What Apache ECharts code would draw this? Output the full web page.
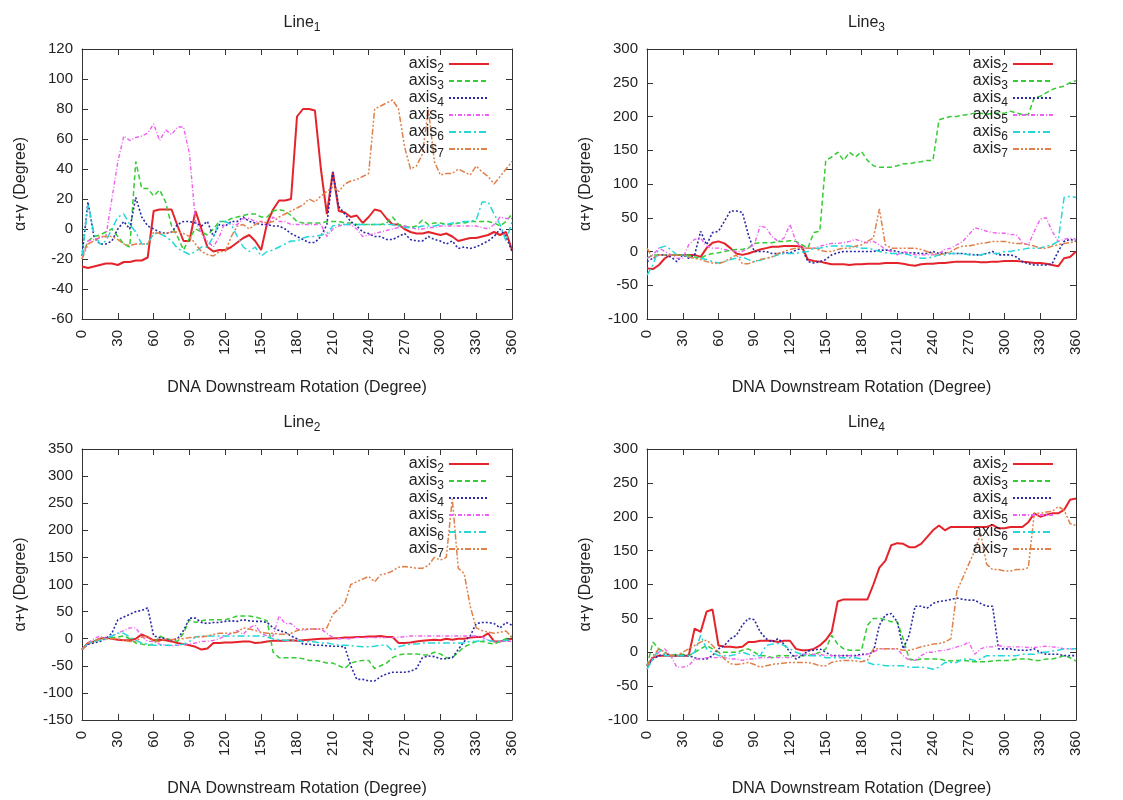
<!DOCTYPE html>
<html>
<head>
<meta charset="utf-8">
<script src="https://cdn.jsdelivr.net/npm/echarts@6/dist/echarts.min.js"></script>
<style>html,body{margin:0;padding:0;background:#fff;}#c{width:1123px;height:800px;}</style>
</head>
<body>
<div id="c"></div>
<script>
// x positions (DNA downstream rotation, degrees)
const X = [0,5,10,15,20,25,30,35,40,45,50,55,60,65,70,75,80,85,90,95,100,105,110,115,120,125,130,135,140,145,150,155,160,165,170,175,180,185,190,195,200,205,210,215,220,225,230,235,240,245,250,255,260,265,270,275,280,285,290,295,300,305,310,315,320,325,330,335,340,345,350,355,360];
const seriesNames = ['axis2','axis3','axis4','axis5','axis6','axis7'];

// ---- Line1 ----
const l1_axis2 = [-25,-26,-25,-24,-23,-23, -24,-22,-22,-21,-21,-19, 12,13,13,13,2,-8, -8,12,0,-12,-15,-14, -14,-12,-9,-6,-4,-8, -14,4,13,19,19,20, 75,80,80,79,40,10, 38,12,11,8,9,4, 8,13,12,7,3,3, 0,-2,-3,-3,-2,-3, -4,-3,-5,-8,-7,-6, -6,-5,-4,-2,-4,-2, -14];
const l1_axis3 = [-18,-8,-5,-4,-2,0, -5,-10,-12,45,27,27, 22,26,18,2,-5,-14, -6,0,-2,-4,0,5, 5,7,8,9,10,10, 8,8,12,13,12,9, 5,4,4,4,4,5, 5,5,4,4,3,3, 3,3,3,4,8,3, 2,1,2,6,3,4, 4,3,3,4,4,5, 5,5,5,4,2,5, 10];
const l1_axis4 = [-18,18,-5,-10,-10,-8, 0,5,0,21,8,2, 0,-2,-3,-2,3,5, 5,4,2,5,-5,3, 2,5,5,8,5,4, 3,3,2,2,0,-3, -5,-7,-9,-9,-5,3, 38,15,10,5,2,-2, -3,-5,-5,-7,-7,-5, -3,-7,-8,-8,-5,-7, -8,-10,-8,-13,-12,-13, -12,-10,-8,-5,0,-5, -15];
const l1_axis5 = [-20,-8,-7,-6,-5,20, 45,62,59,61,62,64, 70,59,66,63,68,68, 50,5,-3,-8,-12,-5, 5,3,3,7,7,5, 5,2,8,5,5,3, 3,3,3,3,3,-5, 0,2,3,3,0,-5, -4,-3,-2,-1,0,1, 2,1,0,0,1,1, 2,2,2,2,2,2, 2,1,0,3,8,7, 7];
const l1_axis6 = [-18,17,-3,-10,-8,0, 8,10,3,-2,-10,-10, -3,-3,-5,-8,-13,-15, -17,-15,-12,-12,-5,5, 5,3,-5,-12,-15,-12, -18,-15,-14,-12,-10,-8, -8,-6,-5,-5,-4,-3, 2,3,3,3,3,3, 3,3,3,3,3,2, 1,1,1,2,2,2, 3,3,4,4,5,5, 6,18,18,10,3,-8, 5];
const l1_axis7 = [-20,-10,-8,-5,-5,-5, -7,-10,-11,-10,-10,-10, -2,-3,-3,-2,-2,-3, -5,-10,-15,-17,-18,-15, -15,-5,2,3,0,3, 5,4,5,8,10,12, 14,16,20,18,22,25, 28,25,30,32,33,35, 37,80,82,84,86,80, 55,40,42,50,80,45, 36,37,37,40,38,36, 42,38,35,30,35,40, 45];

// ---- Line3 ----
const l3_axis2 = [-25,-26,-20,-10,-5,-5, -5,-5,-5,-8,5,13, 15,12,5,-3,-5,-3, 0,3,5,7,7,8, 8,8,7,-12,-14,-15, -17,-19,-19,-19,-20,-19, -19,-18,-18,-18,-17,-17, -17,-18,-20,-21,-19,-18, -18,-17,-17,-16,-15,-15, -15,-15,-16,-16,-15,-15, -14,-14,-14,-15,-16,-17, -17,-18,-20,-22,-10,-8, 0];
const l3_axis3 = [-10,-5,-5,-5,-5,-5, -5,-5,-8,-10,-5,-3, -2,0,2,3,3,5, 12,13,13,13,15,15, 16,15,10,5,28,30, 135,140,147,135,147,140, 148,135,127,125,125,125, 127,130,130,132,133,135, 135,195,198,200,200,202, 203,205,205,203,205,205, 205,208,205,203,203,228, 230,235,240,243,245,250, 253];
const l3_axis4 = [-15,-10,-5,-5,-8,-15, -5,-10,-5,30,10,28, 30,45,60,60,58,25, 0,0,0,-3,-3,-2, -2,2,5,-15,-17,-15, -12,-5,-2,0,0,0, 0,0,0,2,2,2, 0,-2,-2,-2,-3,-3, 0,-3,-2,-3,-3,-3, -4,-5,-5,-3,0,-5, -5,-5,-8,-15,-18,-20, -20,-20,-18,0,15,18, 15];
const l3_axis5 = [-10,-5,5,0,-5,-10, -10,10,18,20,8,5, 5,3,2,0,0,5, 10,38,35,22,15,20, 40,15,5,5,5,8, 10,12,12,13,15,18, 15,13,15,10,3,0, -5,0,-2,-5,-5,-5, -5,-3,3,5,10,15, 25,35,33,30,28,27, 27,25,25,13,10,30, 48,50,30,15,18,20, 18];
const l3_axis6 = [-35,-20,5,8,3,-5, -5,-8,-10,-10,-12,-15, -17,-15,-12,-10,-8,-12, -15,-13,-10,-8,-5,-3, -3,-3,-1,0,5,5, 7,8,8,8,8,7, 5,5,3,0,-2,-3, -3,-3,-5,-8,-10,-10, -8,-5,-5,-3,-3,-3, -5,-5,-5,-3,-3,-3, 0,0,2,3,5,5, 5,8,10,15,80,82, 80];
const l3_axis7 = [5,-10,-5,-5,-5,-5, -5,-8,-10,-12,-15,-17, -18,-15,-10,-5,-18,-18, -15,-12,-10,-8,-3,0, 3,5,5,5,5,2, 0,0,3,5,5,8, 10,15,20,63,10,5, 5,5,5,5,3,0, -3,-5,-3,0,5,8, 8,10,12,13,15,15, 15,13,12,12,10,8, 5,5,8,10,12,13, 15];

// ---- Line2 ----
const l2_axis2 = [-20,-8,-5,0,2,0, -2,-3,-3,0,8,3, -3,-2,-3,-5,-8,-10, -12,-15,-20,-18,-8,-8, -7,-7,-6,-5,-5,-8, -7,-5,-4,-4,-4,-3, -4,-3,-2,-1,0,0, 1,1,2,2,3,3, 4,4,5,3,3,-8, -8,-7,-5,-4,-3,-2, -3,0,-2,0,0,2, 3,3,10,-5,-5,-3, 0];
const l2_axis3 = [-20,-8,-5,0,0,2, 3,5,0,-8,-10,-12, -10,5,0,-2,-5,10, 35,30,33,35,35,35, 35,38,42,42,42,40, 37,33,-25,-35,-35,-35, -35,-37,-40,-40,-42,-45, -45,-50,-55,-45,-42,-40, -40,-55,-50,-45,-35,-30, -28,-28,-28,-30,-30,-25, -28,-35,-35,-25,-15,-10, -5,-5,-8,-10,-5,0, 5];
const l2_axis4 = [-20,-10,-8,-5,0,10, 35,40,45,50,52,57, 5,2,0,-3,0,15, 38,38,30,28,30,30, 32,33,32,35,33,32, 32,30,20,15,12,5, 0,-10,-10,-12,-12,-13, -14,-14,-15,-50,-75,-75, -78,-78,-70,-65,-62,-62, -62,-60,-55,-35,-32,-33, -37,-37,-35,-20,-5,5, 28,30,30,28,20,30, 25];
const l2_axis5 = [-20,-8,0,5,0,5, 10,15,20,20,5,-5, -5,-10,-12,-13,-12,-10, -10,-8,-5,-5,-3,0, 5,10,15,8,20,25, 10,5,5,42,28,28, 18,15,18,18,18,10, 2,0,0,0,2,2, 2,2,2,2,2,3, 3,5,5,5,5,5, 5,5,5,5,5,5, 5,3,-3,-5,-5,-5, -5];
const l2_axis6 = [-20,-8,-5,-3,0,5, 10,10,3,-3,-8,-10, -12,-12,-12,-12,-12,-10, -5,3,5,5,5,5, 5,5,5,5,5,5, 5,3,0,-2,-3,-3, -3,-5,-5,-6,-8,-8, -10,-12,-12,-13,-14,-15, -15,-14,-12,-12,-22,-15, -12,-10,-10,-8,-8,-8, -8,-8,-8,-8,-8,-5, -5,-3,-3,-5,-5,-3, -2];
const l2_axis7 = [-20,-8,-5,0,0,0, 0,-3,-5,-5,3,5, -5,-5,0,-2,0,0, 2,3,3,5,8,10, 10,10,12,20,18,15, 12,10,10,8,8,10, 15,18,18,18,18,20, 45,55,65,100,105,110, 115,105,118,120,125,132, 133,132,130,130,135,150, 145,150,258,130,120,60, 20,15,12,10,12,14, 2];

// ---- Line4 ----
const l4_axis2 = [-20,-8,-5,-5,-5,-5, -5,-5,35,30,60,63, 10,8,8,7,8,15, 15,17,17,17,15,17, 17,5,3,3,5,10, 18,30,75,78,78,78, 78,78,100,125,135,158, 161,160,155,155,160,170, 180,187,180,185,185,185, 185,185,185,185,188,183, 183,185,185,185,192,205, 200,203,205,205,210,225, 227];
const l4_axis3 = [-20,15,5,0,-5,-3, -3,-5,0,5,10,5, 0,0,0,0,3,5, 0,-5,-5,-8,-5,-5, -5,-5,-5,-5,-3,0, 5,25,12,5,3,3, 3,40,50,50,48,45, 45,20,-10,-12,-10,-10, -10,-10,-12,-13,-12,-12, -13,-14,-14,-14,-13,-12, -12,-12,-10,-10,-10,-12, -12,-10,-10,-8,-5,-8, -13];
const l4_axis4 = [-20,-10,-5,-3,-5,-5, -5,-5,-8,-10,-10,-5, 5,10,20,25,40,50, 48,30,20,15,20,12, 0,-10,-5,2,3,5, 0,-5,-5,-5,-5,-5, -3,-3,0,40,55,57, 45,5,25,68,68,65, 72,75,76,78,80,78, 77,77,72,68,68,5, 5,5,3,3,3,5, 0,-3,-3,-3,-5,-5, -5];
const l4_axis5 = [-25,-10,0,5,-5,-22, -22,-20,-10,-10,-8,-8, -8,-8,-10,-10,-12,-10, -10,-8,-8,-8,-8,-8, -8,-5,-3,-3,-3,-3, -5,-5,-5,-5,-5,-5, -5,-3,0,5,5,5, 5,-5,-12,-12,-5,0, 0,2,3,5,8,10, 15,-3,5,8,8,10, 8,8,8,8,7,7, 8,9,8,7,5,5, 5];
const l4_axis6 = [-25,-10,5,-5,-5,-5, -5,-5,0,25,5,0, -5,-5,-5,-3,0,-3, -5,-5,10,12,13,10, 5,0,-3,-5,-5,-5, -8,-8,-8,-8,-8,-8, -10,-15,-18,-18,-20,-20, -20,-20,-22,-22,-22,-23, -25,-22,-15,-15,-15,-10, -10,-12,-10,-5,-5,-5, -5,-5,-5,-3,-3,-3, 0,0,2,3,5,5, 5];
const l4_axis7 = [-20,-5,5,0,-5,-5, 0,5,10,15,18,10, 0,-10,-17,-18,-17,-15, -18,-22,-20,-18,-17,-16, -15,-15,-15,-15,-17,-20, -20,-15,-13,-12,-12,-13, -14,-12,5,5,5,5, 5,3,3,5,8,10, 12,13,15,20,90,110, 130,150,175,130,122,122, 120,120,122,122,125,205, 205,207,208,215,210,190, 187];

const panels = [
  {sub:'1', yMin:-60, yMax:120, yInt:20, series:[l1_axis2,l1_axis3,l1_axis4,l1_axis5,l1_axis6,l1_axis7]},
  {sub:'3', yMin:-100, yMax:300, yInt:50, series:[l3_axis2,l3_axis3,l3_axis4,l3_axis5,l3_axis6,l3_axis7]},
  {sub:'2', yMin:-150, yMax:350, yInt:50, series:[l2_axis2,l2_axis3,l2_axis4,l2_axis5,l2_axis6,l2_axis7]},
  {sub:'4', yMin:-100, yMax:300, yInt:50, series:[l4_axis2,l4_axis3,l4_axis4,l4_axis5,l4_axis6,l4_axis7]}
];

// layout & styles
const grids = [
  {left:82, top:49, width:430, height:270},
  {left:647, top:49, width:429, height:270},
  {left:82, top:449, width:430, height:271},
  {left:647, top:449, width:429, height:271}
];
const lineStyles = [
  {color:'#e4232b', width:2, type:'solid'},
  {color:'#33cc33', width:1.5, type:[5,3]},
  {color:'#2a2aa8', width:1.6, type:[2,2]},
  {color:'#f060f0', width:1.4, type:[4,2,1,2]},
  {color:'#22d8d8', width:1.5, type:[7,3,2,3]},
  {color:'#e0804a', width:1.5, type:[6,2,2,2,2,2]}
];
const FONT = 'Liberation Sans, Arial, sans-serif';
const txt = '#222';
const rich = {
  a:{fontSize:16, lineHeight:22, color:txt, fontFamily:FONT, fontWeight:'normal'},
  s:{fontSize:12, lineHeight:12, color:txt, fontFamily:FONT, fontWeight:'normal', verticalAlign:'bottom'}
};

const option = {animation:false, backgroundColor:'#fff', grid:[], xAxis:[], yAxis:[], series:[], title:[], legend:[]};
panels.forEach((p, k) => {
  const g = grids[k];
  option.grid.push({left:g.left, top:g.top, width:g.width, height:g.height, containLabel:false});
  const cx = g.left + g.width/2;
  option.title.push({text:'{a|Line}{s|' + p.sub + '}', left:cx, top:g.top-42, textAlign:'center',
    textStyle:{fontWeight:'normal', rich:rich}});
  const axLine = {show:true, onZero:false, lineStyle:{color:'#333', width:1}};
  const tick = {show:true, inside:true, length:6, lineStyle:{color:'#333', width:1}};
  option.xAxis.push({gridIndex:k, type:'value', position:'bottom', min:0, max:360, interval:30,
    axisLine:axLine, axisTick:tick, splitLine:{show:false},
    axisLabel:{rotate:90, margin:11, fontSize:15, color:txt, fontFamily:FONT, formatter:v=>String(v)},
    name:'DNA Downstream Rotation (Degree)', nameLocation:'middle', nameGap:61,
    nameTextStyle:{fontSize:16, color:txt, fontFamily:FONT}});
  option.xAxis.push({gridIndex:k, type:'value', position:'top', min:0, max:360, interval:30,
    axisLine:axLine, axisTick:tick, splitLine:{show:false}, axisLabel:{show:false}});
  option.yAxis.push({gridIndex:k, type:'value', position:'left', min:p.yMin, max:p.yMax, interval:p.yInt,
    axisLine:axLine, axisTick:tick, splitLine:{show:false},
    axisLabel:{margin:9, fontSize:15, color:txt, fontFamily:FONT},
    name:'α+γ (Degree)', nameLocation:'middle', nameGap:53, nameRotate:90,
    nameTextStyle:{fontSize:16, color:txt, fontFamily:FONT}});
  option.yAxis.push({gridIndex:k, type:'value', position:'right', min:p.yMin, max:p.yMax, interval:p.yInt,
    axisLine:axLine, axisTick:tick, splitLine:{show:false}, axisLabel:{show:false}});
  p.series.forEach((vals, i) => {
    option.series.push({type:'line', name:seriesNames[i], xAxisIndex:2*k, yAxisIndex:2*k,
      symbol:'none', showSymbol:false, lineStyle:lineStyles[i], itemStyle:{color:lineStyles[i].color},
      data:X.map((x, j) => [x, vals[j]]), z:2+i});
  });
  option.legend.push({orient:'vertical', align:'right', right:1123-(g.left+g.width-17), top:g.top+2,
    itemWidth:40, itemHeight:10, itemGap:-2, selectedMode:false, data:seriesNames,
    itemStyle:{opacity:0},
    formatter:n => '{a|axis}{s|' + n.slice(4) + '}', textStyle:{rich:rich}, z:10});
});

const chart = echarts.init(document.getElementById('c'), null, {renderer:'canvas'});
chart.setOption(option);
</script>
</body>
</html>
